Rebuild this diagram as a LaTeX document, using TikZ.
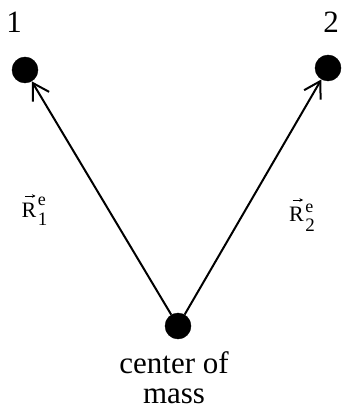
\documentclass[tikz,border=0pt]{standalone}
\usepackage{fontspec}
\setmainfont{Liberation Serif}
\usetikzlibrary{arrows.meta}
\newcommand{\labR}[3]{% #1 sub raise, #2 sup raise, #3 index
  R\kern1.5pt\rlap{\raisebox{#2}{\fontsize{18}{18}\selectfont e}}%
  \raisebox{#1}{\fontsize{19}{19}\selectfont #3}}
\begin{document}
\begin{tikzpicture}[x=1pt,y=-1pt,
  dot/.style={circle,fill=black,draw=black,minimum size=26pt,inner sep=0pt},
  vec/.style={line width=2pt,-{Straight Barb[length=16pt,width=19pt,line width=2pt]}},
  small vec/.style={line width=0.7pt,-{Stealth[length=3.5pt,width=3.5pt]}},
  big/.style={font=\fontsize{31}{30}\selectfont,inner sep=0pt},
  lab/.style={font=\fontsize{22}{24}\selectfont,inner sep=0pt,anchor=base west}]
\useasboundingbox (0,0) rectangle (343,411);
\node[dot] (p1) at (25,70) {};
\node[dot] (p2) at (328,68) {};
\node[dot] (com) at (178,326) {};
\node[big,anchor=base] (n1) at (14,33) {1};
\node[big,anchor=base] (n2) at (331,33) {2};
\node[big,align=center,anchor=north] (t) at (174,351.5) {center of\\mass};
\node[lab] (r1) at (21.5,217) {\labR{-8pt}{11pt}{1}};
\node[lab] (r2) at (289,221) {\labR{-10pt}{9pt}{2}};
\draw[small vec] ([shift={(3.5,-21)}]r1.base west) -- ([shift={(14,-21)}]r1.base west);
\draw[small vec] ([shift={(3.5,-21)}]r2.base west) -- ([shift={(14,-21)}]r2.base west);
\draw[vec] (com) -- (p1);
\draw[vec] (com) -- (p2);
\end{tikzpicture}
\end{document}
